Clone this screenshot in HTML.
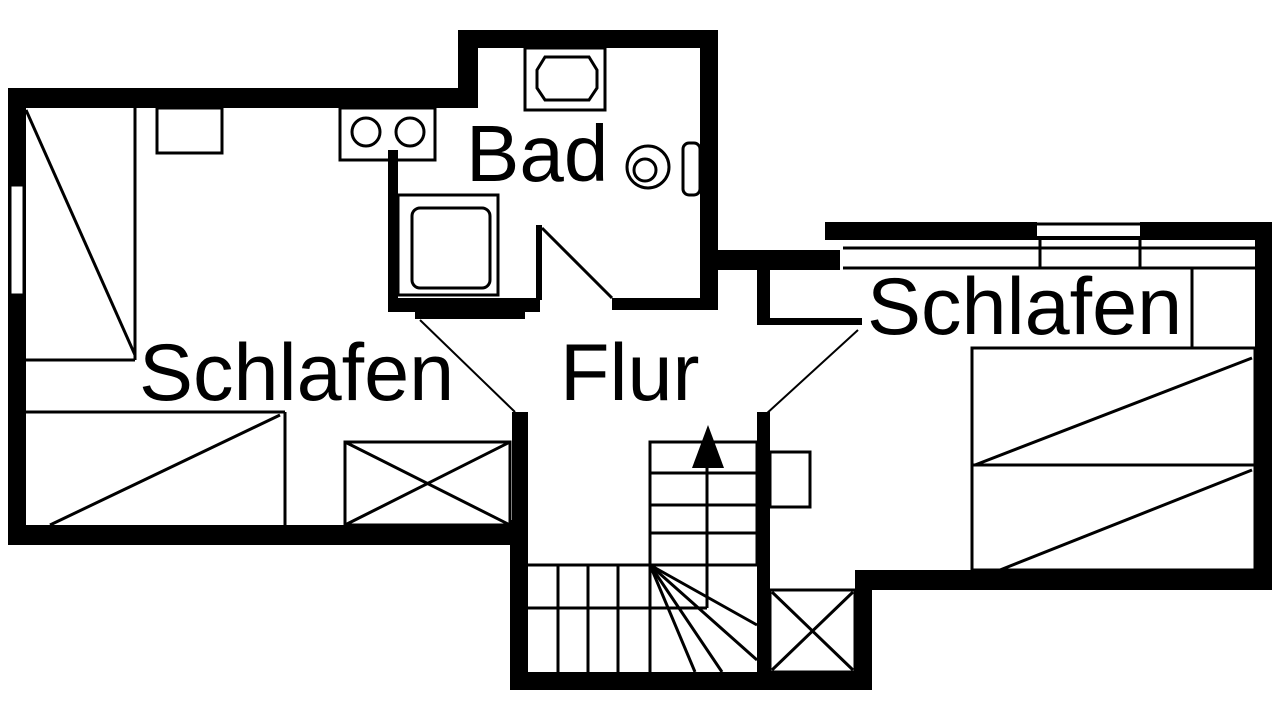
<!DOCTYPE html>
<html><head><meta charset="utf-8"><style>
html,body{margin:0;padding:0;background:#fff;}
svg{display:block;}
text{font-family:"Liberation Sans",sans-serif;fill:#000;}
</style></head><body>
<svg width="1280" height="720" viewBox="0 0 1280 720" xmlns="http://www.w3.org/2000/svg">
<rect width="1280" height="720" fill="#fff"/>
<g fill="#000">
<rect x="8" y="88" width="470" height="20"/>
<rect x="8" y="88" width="18" height="457"/>
<rect x="458" y="30" width="20" height="78"/>
<rect x="458" y="30" width="260" height="18"/>
<rect x="700" y="30" width="18" height="280"/>
<rect x="700" y="250" width="140" height="20"/>
<rect x="825" y="222" width="447" height="18"/>
<rect x="1255" y="222" width="17" height="368"/>
<rect x="855" y="570" width="417" height="20"/>
<rect x="855" y="570" width="17" height="120"/>
<rect x="510" y="672" width="362" height="18"/>
<rect x="510" y="520" width="18" height="170"/>
<rect x="8" y="525" width="520" height="20"/>
<rect x="388" y="150" width="10" height="162"/>
<rect x="388" y="298" width="152" height="14"/>
<rect x="612" y="298" width="106" height="12"/>
<rect x="415" y="312" width="110" height="7"/>
<rect x="512" y="412" width="16" height="133"/>
<rect x="757" y="412" width="13" height="278"/>
<rect x="757" y="262" width="13" height="63"/>
<rect x="757" y="318" width="105" height="7"/>
<rect x="536" y="225" width="6" height="75"/>
</g>
<g fill="#fff"><rect x="10" y="185" width="14" height="110"/><rect x="1037" y="222" width="103" height="14"/></g>
<g fill="none" stroke="#000" stroke-width="3">
<rect x="10" y="185" width="14" height="110"/>
<line x1="26" y1="110" x2="135" y2="355"/>
<line x1="135" y1="108" x2="135" y2="360"/>
<line x1="26" y1="360" x2="135" y2="360"/>
<rect x="157" y="108" width="65" height="45"/>
<line x1="26" y1="412" x2="285" y2="412"/>
<line x1="285" y1="412" x2="285" y2="525"/>
<line x1="50" y1="525" x2="280" y2="415"/>
<rect x="345" y="442" width="165" height="83"/>
<line x1="345" y1="442" x2="510" y2="525"/>
<line x1="345" y1="525" x2="510" y2="442"/>
<rect x="340" y="108" width="95" height="52"/>
<circle cx="366" cy="132" r="14"/><circle cx="410" cy="132" r="14"/>
<rect x="398" y="195" width="100" height="100"/>
<rect x="412" y="208" width="78" height="80" rx="8"/>
<rect x="525" y="48" width="80" height="62"/>
<path d="M545 57 H589 L597 70 V88 L589 100 H545 L537 88 V70 Z"/>
<circle cx="648" cy="167" r="21"/><circle cx="645" cy="170" r="11"/>
<rect x="683" y="143" width="17" height="52" rx="6"/>
<line x1="542" y1="228" x2="612" y2="298"/>
<line x1="420" y1="320" x2="515" y2="412" stroke-width="2"/>
<line x1="858" y1="330" x2="765" y2="415" stroke-width="2"/>
<line x1="843" y1="248" x2="1258" y2="248"/>
<line x1="843" y1="268" x2="1258" y2="268"/>
<line x1="1040" y1="240" x2="1040" y2="268"/>
<line x1="1140" y1="240" x2="1140" y2="268"/>
<line x1="1037" y1="224" x2="1140" y2="224"/>
<line x1="1192" y1="268" x2="1192" y2="348"/>
<rect x="972" y="348" width="283" height="222"/>
<line x1="972" y1="465" x2="1255" y2="465"/>
<line x1="975" y1="465" x2="1252" y2="358"/>
<line x1="1000" y1="570" x2="1252" y2="470"/>
<rect x="770" y="452" width="40" height="55"/>
<rect x="770" y="590" width="85" height="82"/>
<line x1="772" y1="592" x2="853" y2="670"/>
<line x1="772" y1="670" x2="853" y2="592"/>
<rect x="650" y="442" width="107" height="123"/>
<line x1="650" y1="473" x2="757" y2="473"/>
<line x1="650" y1="505" x2="757" y2="505"/>
<line x1="650" y1="533" x2="757" y2="533"/>
<line x1="707" y1="442" x2="707" y2="608"/>
<line x1="528" y1="565" x2="757" y2="565"/>
<line x1="528" y1="608" x2="707" y2="608"/>
<line x1="558" y1="565" x2="558" y2="672"/>
<line x1="588" y1="565" x2="588" y2="672"/>
<line x1="618" y1="565" x2="618" y2="672"/>
<line x1="650" y1="565" x2="650" y2="672"/>
<line x1="650" y1="565" x2="695" y2="672"/>
<line x1="650" y1="565" x2="757" y2="660"/>
<line x1="650" y1="565" x2="757" y2="625"/>
<line x1="650" y1="565" x2="722" y2="672"/>
</g>
<polygon points="708,425 692,468 724,468" fill="#000"/>
<text x="466" y="181" font-size="80">Bad</text>
<text x="139" y="400" font-size="81">Schlafen</text>
<text x="560" y="400" font-size="81">Flur</text>
<text x="867" y="334" font-size="81">Schlafen</text>
</svg>
</body></html>
